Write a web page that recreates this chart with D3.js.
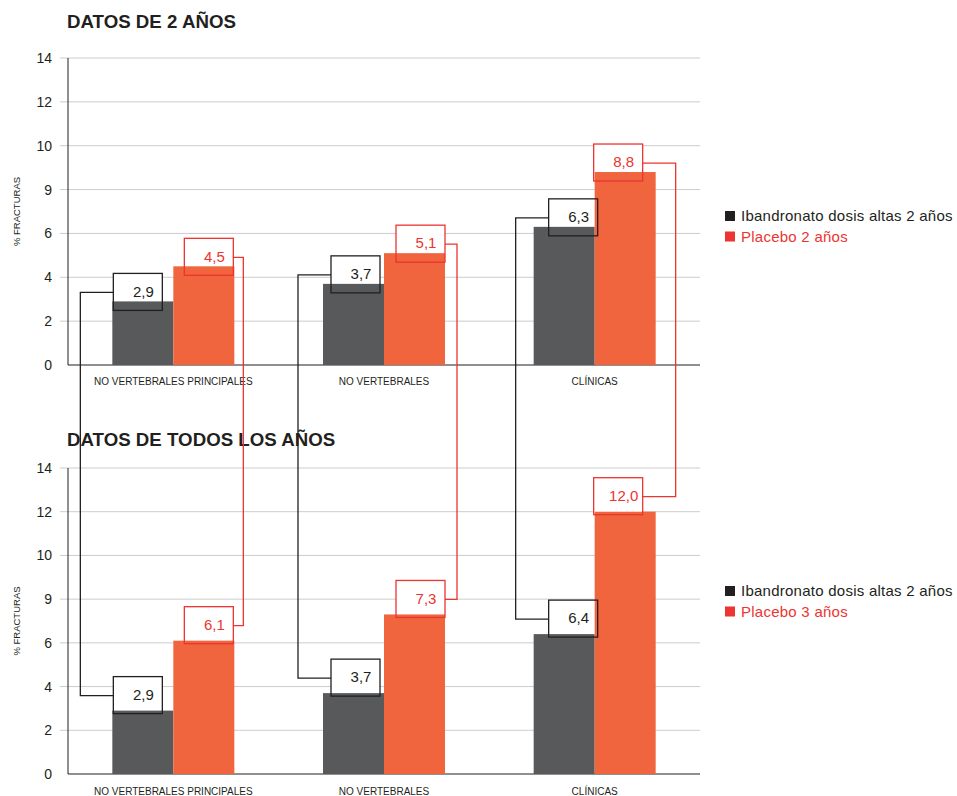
<!DOCTYPE html>
<html lang="es">
<head>
<meta charset="UTF-8">
<title>Fracturas</title>
<script src="https://cdn.jsdelivr.net/npm/d3@7/dist/d3.min.js"></script>
<style>
    html, body { margin: 0; padding: 0; background: #fff; }
    svg { display: block; font-family: "Liberation Sans", Arial, sans-serif; }
</style>
</head>
<body>
<script>
    // datos
    var categories = ["NO VERTEBRALES PRINCIPALES", "NO VERTEBRALES", "CLÍNICAS"];
    var ibandronato2 = [2.9, 3.7, 6.3];
    var placebo2 = [4.5, 5.1, 8.8];
    var ibandronatoAll = [2.9, 3.7, 6.4];
    var placebo3 = [6.1, 7.3, 12.0];
    var tickValues = [0, 2, 4, 6, 8, 10, 12, 14];
    var tickLabels = ["0", "2", "4", "6", "9", "10", "12", "14"];
    var titles = ["DATOS DE 2 AÑOS", "DATOS DE TODOS LOS AÑOS"];
    var legendTop = ["Ibandronato dosis altas 2 años", "Placebo 2 años"];
    var legendBottom = ["Ibandronato dosis altas 2 años", "Placebo 3 años"];

    var W = 957, H = 796;
    var dark = "#58595b", orange = "#f0643e", ink = "#231f20", red = "#ec3431";

    // desplazamiento de las cajas de valores respecto al centro de cada grupo
    var darkShift = [-60, -53, -46];
    var redShift = [11, 12, -1];
    var redLead = [70, 73, 81];

    var svg = d3.select("body").append("svg").attr("width", W).attr("height", H);

    var x = d3.scaleBand().domain(categories).range([68, 700]).padding(0);
    var barW = 61, boxW = 49, boxH = 37;
    var fmt = function (v) { return d3.format(".1f")(v).replace(".", ","); };
    var cx = function (i) { return x(categories[i]) + x.bandwidth() / 2; };

    var panels = [
        { title: titles[0], titleY: 28, y: d3.scaleLinear().domain([0, 14]).range([365, 58]), a: ibandronato2, b: placebo2, legend: legendTop, legY: 216, catY: 385, lift: 28 },
        { title: titles[1], titleY: 446, y: d3.scaleLinear().domain([0, 14]).range([774, 468]), a: ibandronatoAll, b: placebo3, legend: legendBottom, legY: 591, catY: 795, lift: 34 }
    ];

    var gBase = svg.append("g");
    var gConn = svg.append("g");

    panels.forEach(function (p) {
        var g = gBase.append("g");
        var y = p.y;

        // titulo
        g.append("text").attr("x", 67).attr("y", p.titleY)
            .attr("font-size", 18.7).attr("font-weight", "bold").attr("fill", ink)
            .text(p.title);

        // rejilla
        g.selectAll(".grid").data(tickValues.slice(1)).enter().append("line")
            .attr("x1", 60).attr("x2", 700)
            .attr("y1", function (d) { return y(d); }).attr("y2", function (d) { return y(d); })
            .attr("stroke", "#cccccc").attr("stroke-width", 1);

        // eje y
        var axis = d3.axisLeft(y).tickValues(tickValues).tickSize(0).tickPadding(16)
            .tickFormat(function (d, i) { return tickLabels[i]; });
        var ga = g.append("g").attr("transform", "translate(68,0)").call(axis);
        ga.select(".domain").remove();
        ga.selectAll("text").attr("font-size", 14).attr("fill", ink)
            .attr("font-family", "Liberation Sans, Arial, sans-serif");

        g.append("line").attr("x1", 68).attr("x2", 68).attr("y1", y(14)).attr("y2", y(0))
            .attr("stroke", ink).attr("stroke-width", 1);
        g.append("line").attr("x1", 68).attr("x2", 700).attr("y1", y(0)).attr("y2", y(0))
            .attr("stroke", ink).attr("stroke-width", 1.2);

        var mid = (y(0) + y(14)) / 2;
        g.append("text").attr("transform", "translate(20," + mid + ") rotate(-90)")
            .attr("text-anchor", "middle").attr("font-size", 9.5).attr("fill", ink).text("% FRACTURAS");

        // categorias
        g.selectAll(".cat").data(categories).enter().append("text")
            .attr("x", function (d) { return x(d) + x.bandwidth() / 2; })
            .attr("y", p.catY).attr("text-anchor", "middle")
            .attr("font-size", 10).attr("fill", ink).text(function (d) { return d; });

        var series = [
            { vals: p.a, color: dark, stroke: ink, off: -barW, shift: darkShift },
            { vals: p.b, color: orange, stroke: red, off: 0, shift: redShift }
        ];
        // cajas (relleno)
        series.forEach(function (s) {
            g.selectAll(null).data(s.vals).enter().append("rect")
                .attr("x", function (d, i) { return cx(i) + s.shift[i]; })
                .attr("y", function (d) { return y(d) - p.lift; })
                .attr("width", boxW).attr("height", boxH).attr("fill", "#fff");
        });
        // barras
        series.forEach(function (s) {
            g.selectAll(null).data(s.vals).enter().append("rect")
                .attr("x", function (d, i) { return cx(i) + s.off; })
                .attr("y", function (d) { return y(d); })
                .attr("width", barW).attr("height", function (d) { return y(0) - y(d); })
                .attr("fill", s.color);
        });
        // cajas (borde) y valores
        series.forEach(function (s) {
            g.selectAll(null).data(s.vals).enter().append("rect")
                .attr("x", function (d, i) { return cx(i) + s.shift[i]; })
                .attr("y", function (d) { return y(d) - p.lift; })
                .attr("width", boxW).attr("height", boxH)
                .attr("fill", "none").attr("stroke", s.stroke).attr("stroke-width", 1.3);
            g.selectAll(null).data(s.vals).enter().append("text")
                .attr("x", function (d, i) { return cx(i) + s.shift[i] + 30; })
                .attr("y", function (d) { return y(d) - p.lift + 18; })
                .attr("text-anchor", "middle").attr("dy", "0.35em")
                .attr("font-size", 15).attr("fill", s.stroke).text(fmt);
        });

        // leyenda
        var lg = g.append("g").attr("transform", "translate(725," + p.legY + ")");
        [ink, red].forEach(function (c, i) {
            lg.append("rect").attr("x", 0).attr("y", i * 20.5 - 5).attr("width", 10).attr("height", 10).attr("fill", c);
            lg.append("text").attr("x", 16).attr("y", i * 20.5).attr("dy", "0.35em")
                .attr("font-size", 15).attr("letter-spacing", 0.25).attr("fill", c).text(p.legend[i]);
        });
    });

    // conectores entre paneles
    var pTop = panels[0], pBot = panels[1];
    categories.forEach(function (c, i) {
        var c0 = cx(i);
        // serie oscura (izquierda)
        var bl = c0 + darkShift[i], lx = bl - 33;
        var y1 = pTop.y(pTop.a[i]) - pTop.lift + 19, y2 = pBot.y(pBot.a[i]) - pBot.lift + 19;
        gConn.append("path")
            .attr("d", "M" + bl + "," + y1 + "H" + lx + "V" + y2 + "H" + bl)
            .attr("fill", "none").attr("stroke", ink).attr("stroke-width", 1.3);
        // serie roja (derecha)
        var br = c0 + redShift[i] + boxW, rx = c0 + redLead[i];
        var y3 = pTop.y(pTop.b[i]) - pTop.lift + 19, y4 = pBot.y(pBot.b[i]) - pBot.lift + 19;
        gConn.append("path")
            .attr("d", "M" + br + "," + y3 + "H" + rx + "V" + y4 + "H" + br)
            .attr("fill", "none").attr("stroke", red).attr("stroke-width", 1.3);
    });
</script>
</body>
</html>
